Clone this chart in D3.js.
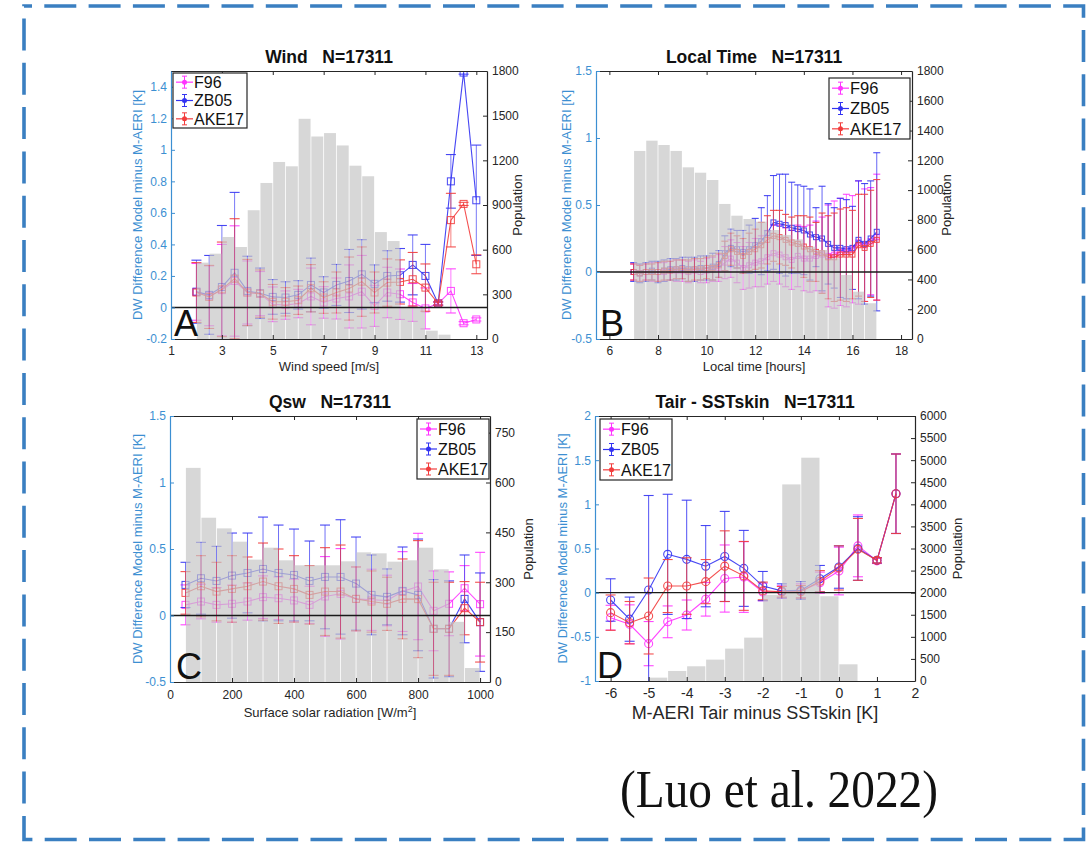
<!DOCTYPE html>
<html>
<head>
<meta charset="utf-8">
<script src="https://cdn.jsdelivr.net/npm/d3@7"></script>
<style>
  body { margin: 0; background: #fff; }
  svg { display: block; }
  text { font-family: "Liberation Sans", Arial, Helvetica, sans-serif; }
</style>
</head>
<body>
<svg id="fig" width="1089" height="842"></svg>
<script>
// ---------------- data ----------------
const seriesNames = ["F96", "ZB05", "AKE17"];

// Panel A: wind speed bins
const windSpeed = [2, 2.5, 3, 3.5, 4, 4.5, 5, 5.5, 6, 6.5, 7, 7.5, 8, 8.5, 9, 9.5, 10, 10.5, 11, 11.5, 12, 12.5, 13];
const windF96   = [0.099, 0.074, 0.11, 0.168, 0.095, 0.088, 0.02, 0.015, 0.025, 0.07, 0.032, 0.057, 0.07, 0.1, 0.01, 0.095, 0.084, 0.032, -0.006, 0.025, 0.105, -0.1, -0.076];
const windZB05  = [0.10, 0.08, 0.13, 0.22, 0.105, 0.09, 0.067, 0.063, 0.08, 0.143, 0.095, 0.143, 0.168, 0.21, 0.15, 0.2, 0.204, 0.27, 0.2, 0.025, 0.8, 1.49, 0.68];
const windAKE17 = [0.095, 0.067, 0.115, 0.183, 0.095, 0.088, 0.036, 0.036, 0.046, 0.122, 0.063, 0.095, 0.12, 0.164, 0.095, 0.158, 0.162, 0.179, 0.126, 0.025, 0.554, 0.657, 0.274];
const windF96Err   = [0.18, 0.19, 0.29, 0.35, 0.2, 0.14, 0.11, 0.09, 0.09, 0.18, 0.1, 0.13, 0.2, 0.23, 0.13, 0.16, 0.16, 0.12, 0.13, 0.01, 0.14, 0.01, 0.01];
const windZB05Err  = [0.2, 0.25, 0.39, 0.51, 0.22, 0.16, 0.11, 0.1, 0.09, 0.17, 0.1, 0.13, 0.2, 0.22, 0.12, 0.16, 0.17, 0.19, 0.2, 0.01, 0.17, 0.01, 0.35];
const windAKE17Err = [0.19, 0.2, 0.3, 0.38, 0.21, 0.15, 0.11, 0.09, 0.09, 0.15, 0.1, 0.13, 0.2, 0.22, 0.13, 0.15, 0.14, 0.17, 0.15, 0.01, 0.17, 0.01, 0.06];
const windBins = [2, 2.5, 3, 3.5, 4, 4.5, 5, 5.5, 6, 6.5, 7, 7.5, 8, 8.5, 9, 9.5, 10, 10.5, 11, 11.5];
const windPop  = [513, 573, 685, 618, 865, 1048, 1189, 1160, 1479, 1360, 1383, 1300, 1164, 1093, 718, 658, 215, 212, 56, 29];
const windXTicks = [1, 3, 5, 7, 9, 11, 13];
const windYTicks = [-0.2, 0, 0.2, 0.4, 0.6, 0.8, 1, 1.2, 1.4];
const windPopTicks = [0, 300, 600, 900, 1200, 1500, 1800];

// Panel B: local time bins
const localHour = [7, 7.25, 7.5, 7.75, 8, 8.25, 8.5, 8.75, 9, 9.25, 9.5, 9.75, 10, 10.25, 10.5, 10.75, 11, 11.25, 11.5, 11.75, 12, 12.25, 12.5, 12.75, 13, 13.25, 13.5, 13.75, 14, 14.25, 14.5, 14.75, 15, 15.25, 15.5, 15.75, 16, 16.25, 16.5, 16.75, 17];
const timeF96   = [0, -0.01, 0, 0, 0, 0, 0.01, 0.01, 0.01, 0, 0.01, 0, 0.01, 0.02, 0.03, 0.07, 0.10, 0.07, 0.03, 0.05, 0.07, 0.08, 0.11, 0.14, 0.13, 0.11, 0.09, 0.12, 0.10, 0.10, 0.12, 0.13, 0.12, 0.13, 0.15, 0.16, 0.17, 0.22, 0.20, 0.23, 0.26];
const timeZB05  = [0, -0.01, 0, 0.01, 0, 0.01, 0.02, 0.02, 0.03, 0.02, 0.02, 0.03, 0.03, 0.04, 0.06, 0.14, 0.18, 0.17, 0.15, 0.17, 0.20, 0.23, 0.29, 0.37, 0.36, 0.35, 0.33, 0.32, 0.31, 0.28, 0.26, 0.25, 0.21, 0.18, 0.18, 0.17, 0.18, 0.24, 0.21, 0.25, 0.30];
const timeAKE17 = [0, -0.01, 0, 0, 0, 0.01, 0.01, 0.02, 0.02, 0.01, 0.02, 0.02, 0.03, 0.03, 0.05, 0.12, 0.17, 0.15, 0.12, 0.15, 0.17, 0.20, 0.24, 0.27, 0.26, 0.24, 0.22, 0.21, 0.19, 0.17, 0.15, 0.14, 0.11, 0.11, 0.13, 0.13, 0.13, 0.20, 0.18, 0.21, 0.24];
const timeF96Err   = [0.06, 0.06, 0.06, 0.07, 0.07, 0.07, 0.07, 0.08, 0.08, 0.08, 0.08, 0.08, 0.09, 0.09, 0.10, 0.12, 0.14, 0.15, 0.16, 0.17, 0.18, 0.19, 0.20, 0.21, 0.22, 0.22, 0.22, 0.23, 0.24, 0.25, 0.26, 0.28, 0.38, 0.40, 0.40, 0.42, 0.40, 0.46, 0.42, 0.40, 0.47];
const timeZB05Err  = [0.07, 0.07, 0.07, 0.07, 0.08, 0.08, 0.08, 0.08, 0.08, 0.09, 0.09, 0.09, 0.09, 0.10, 0.10, 0.13, 0.14, 0.14, 0.16, 0.18, 0.20, 0.25, 0.28, 0.35, 0.37, 0.38, 0.34, 0.33, 0.33, 0.34, 0.22, 0.39, 0.30, 0.30, 0.37, 0.37, 0.31, 0.44, 0.45, 0.43, 0.59];
const timeAKE17Err = [0.06, 0.06, 0.06, 0.06, 0.07, 0.07, 0.07, 0.07, 0.07, 0.08, 0.08, 0.08, 0.08, 0.09, 0.09, 0.11, 0.12, 0.12, 0.13, 0.14, 0.15, 0.17, 0.18, 0.19, 0.20, 0.19, 0.19, 0.21, 0.23, 0.24, 0.22, 0.30, 0.31, 0.33, 0.34, 0.35, 0.33, 0.38, 0.40, 0.40, 0.45];
const timeBins = [7, 7.5, 8, 8.5, 9, 9.5, 10, 10.5, 11, 11.5, 12, 12.5, 13, 13.5, 14, 14.5, 15, 15.5, 16, 16.5];
const timePop  = [1263, 1332, 1303, 1263, 1153, 1117, 1068, 907, 828, 806, 788, 732, 699, 669, 620, 598, 542, 430, 318, 240];
const timeXTicks = [6, 8, 10, 12, 14, 16, 18];
const timeYTicks = [-0.5, 0, 0.5, 1, 1.5];
const timePopTicks = [0, 200, 400, 600, 800, 1000, 1200, 1400, 1600, 1800];

// Panel C: surface solar radiation bins
const solarRad = [50, 100, 150, 200, 250, 300, 350, 400, 450, 500, 550, 600, 650, 700, 750, 800, 850, 900, 950, 1000];
const qswF96   = [0.08, 0.105, 0.08, 0.088, 0.105, 0.138, 0.13, 0.113, 0.08, 0.143, 0.163, 0.125, 0.118, 0.113, 0.18, 0.218, 0.035, 0.088, 0.205, 0.085];
const qswZB05  = [0.23, 0.28, 0.26, 0.30, 0.32, 0.35, 0.32, 0.305, 0.26, 0.29, 0.29, 0.24, 0.155, 0.14, 0.185, 0.155, -0.1, -0.1, 0.125, -0.05];
const qswAKE17 = [0.17, 0.22, 0.18, 0.2, 0.22, 0.255, 0.22, 0.2, 0.155, 0.18, 0.18, 0.125, 0.105, 0.088, 0.125, 0.123, -0.1, -0.1, 0.055, -0.05];
const qswF96Err   = [0.15, 0.13, 0.13, 0.14, 0.14, 0.16, 0.16, 0.16, 0.14, 0.3, 0.34, 0.24, 0.23, 0.19, 0.3, 0.4, 0.3, 0.24, 0.17, 0.39];
const qswZB05Err  = [0.17, 0.27, 0.26, 0.32, 0.3, 0.39, 0.36, 0.345, 0.3, 0.39, 0.43, 0.35, 0.3, 0.21, 0.33, 0.42, 0.37, 0.36, 0.33, 0.37];
const qswAKE17Err = [0.16, 0.23, 0.22, 0.25, 0.22, 0.29, 0.28, 0.25, 0.22, 0.33, 0.35, 0.24, 0.23, 0.2, 0.3, 0.44, 0.35, 0.35, 0.2, 0.3];
const qswBins = [50, 100, 150, 200, 250, 300, 350, 400, 450, 500, 550, 600, 650, 700, 750, 800, 850, 900, 950];
const qswPop  = [644, 494, 462, 422, 368, 404, 366, 351, 351, 351, 363, 390, 387, 362, 366, 404, 339, 181, 42];
const qswXTicks = [0, 200, 400, 600, 800, 1000];
const qswYTicks = [-0.5, 0, 0.5, 1, 1.5];
const qswPopTicks = [0, 150, 300, 450, 600, 750];

// Panel D: air minus skin temperature bins
const airSkin = [-6, -5.5, -5, -4.5, -4, -3.5, -3, -2.5, -2, -1.5, -1, -0.5, 0, 0.5, 1, 1.5];
const dtF96   = [-0.283, -0.358, -0.577, -0.33, -0.253, -0.075, 0.16, 0.177, 0.008, 0.008, 0.02, 0.113, 0.245, 0.53, 0.36, 1.12];
const dtZB05  = [-0.083, -0.3, 0.03, 0.434, 0.377, 0.3, 0.41, 0.275, 0.075, 0.02, 0.026, 0.158, 0.29, 0.5, 0.366, 1.12];
const dtAKE17 = [-0.226, -0.34, -0.264, 0.075, 0.075, 0.125, 0.3, 0.19, 0.02, 0.01, 0.01, 0.13, 0.28, 0.49, 0.366, 1.12];
const dtF96Err   = [0.14, 0.22, 0.25, 0.18, 0.17, 0.19, 0.38, 0.4, 0.1, 0.07, 0.08, 0.12, 0.27, 0.35, 0.03, 0.45];
const dtZB05Err  = [0.24, 0.25, 1.07, 0.68, 0.67, 0.46, 0.51, 0.43, 0.165, 0.08, 0.1, 0.15, 0.24, 0.36, 0.03, 0.45];
const dtAKE17Err = [0.2, 0.24, 0.43, 0.3, 0.32, 0.25, 0.4, 0.39, 0.1, 0.06, 0.07, 0.12, 0.25, 0.35, 0.03, 0.45];
const dtBins = [-5, -4.5, -4, -3.5, -3, -2.5, -2, -1.5, -1, -0.5, 0];
const dtPop  = [76, 227, 333, 484, 733, 982, 1950, 4451, 5056, 1919, 378];
const dtXTicks = [-6, -5, -4, -3, -2, -1, 0, 1, 2];
const dtYTicks = [-1, -0.5, 0, 0.5, 1, 1.5, 2];
const dtPopTicks = [0, 500, 1000, 1500, 2000, 2500, 3000, 3500, 4000, 4500, 5000, 5500, 6000];

// ---------------- styling ----------------
const seriesColor = { F96: "#ff33ff", ZB05: "#3333f2", AKE17: "#f23c3c" };
const leftAxisColor = "#3c8fd2";
const boxColor = "#262626";
// histogram is laid over the curves as a translucent grey veil
const barFill = "#c6c6c6";
const barOpacity = 0.7;

const svg = d3.select("#fig");

// Panel layout and per-panel options
const panels = [
  {
    id: "A", title: "Wind   N=17311", xLabel: "Wind speed [m/s]",
    left: 171, right: 487, top: 71, bottom: 339,
    xDomain: [1, 13.42], yDomain: [-0.2, 1.5], popDomain: [0, 1800],
    xTicks: windXTicks, yTicks: windYTicks, popTicks: windPopTicks,
    x: windSpeed, bins: windBins, pop: windPop, binWidth: 0.5,
    values: { F96: windF96, ZB05: windZB05, AKE17: windAKE17 },
    errors: { F96: windF96Err, ZB05: windZB05Err, AKE17: windAKE17Err },
    marker: "square", markerSize: 7, capWidth: 10, whiskerOpacity: 0.65, capOpacity: 0.9, lineOpacity: 0.9,
    legend: { x: 173, y: 73, w: 74, h: 55, font: 16 },
    ylabX: 137, poplabX: 517, letterX: 174, letterY: 336,
    tickFont: 12, xLabFont: 13, xTickDy: 16, xLabDy: 32
  },
  {
    id: "B", title: "Local Time   N=17311", xLabel: "Local time [hours]",
    left: 596, right: 912, top: 71, bottom: 339,
    xDomain: [5.45, 18.45], yDomain: [-0.5, 1.5], popDomain: [0, 1800],
    xTicks: timeXTicks, yTicks: timeYTicks, popTicks: timePopTicks,
    x: localHour, bins: timeBins, pop: timePop, binWidth: 0.5,
    values: { F96: timeF96, ZB05: timeZB05, AKE17: timeAKE17 },
    errors: { F96: timeF96Err, ZB05: timeZB05Err, AKE17: timeAKE17Err },
    marker: "square", markerSize: 5, capWidth: 7, whiskerOpacity: 0.75, capOpacity: 0.9, lineOpacity: 0.9,
    legend: { x: 829, y: 78, w: 81, h: 61, font: 16.5 },
    ylabX: 566, poplabX: 946, letterX: 600, letterY: 336,
    tickFont: 12, xLabFont: 13, xTickDy: 16, xLabDy: 32
  },
  {
    id: "C", title: "Qsw   N=17311", xLabel: "Surface solar radiation [W/m",
    left: 170, right: 490, top: 416, bottom: 682,
    xDomain: [0, 1032], yDomain: [-0.5, 1.5], popDomain: [0, 800],
    xTicks: qswXTicks, yTicks: qswYTicks, popTicks: qswPopTicks,
    x: solarRad, bins: qswBins, pop: qswPop, binWidth: 50,
    values: { F96: qswF96, ZB05: qswZB05, AKE17: qswAKE17 },
    errors: { F96: qswF96Err, ZB05: qswZB05Err, AKE17: qswAKE17Err },
    marker: "square", markerSize: 7, capWidth: 10, whiskerOpacity: 0.7, capOpacity: 0.9, lineOpacity: 0.9,
    legend: { x: 417, y: 419, w: 72, h: 60, font: 16 },
    ylabX: 137, poplabX: 528, letterX: 176, letterY: 679,
    tickFont: 12, xLabFont: 13, xTickDy: 17, xLabDy: 35, superscript: "2"
  },
  {
    id: "D", title: "Tair - SSTskin   N=17311", xLabel: "M-AERI Tair minus SSTskin [K]",
    left: 595, right: 915, top: 416, bottom: 681,
    xDomain: [-6.41, 2], yDomain: [-1, 2], popDomain: [0, 6000],
    xTicks: dtXTicks, yTicks: dtYTicks, popTicks: dtPopTicks,
    x: airSkin, bins: dtBins, pop: dtPop, binWidth: 0.5,
    values: { F96: dtF96, ZB05: dtZB05, AKE17: dtAKE17 },
    errors: { F96: dtF96Err, ZB05: dtZB05Err, AKE17: dtAKE17Err },
    marker: "circle", markerSize: 8, capWidth: 10, whiskerOpacity: 0.85, capOpacity: 0.9, lineOpacity: 0.9,
    legend: { x: 600, y: 419, w: 72, h: 61, font: 16 },
    ylabX: 562, poplabX: 957, letterX: 597, letterY: 678,
    tickFont: 12, xTickFont: 14, xLabFont: 18, xTickDy: 17, xLabDy: 38
  }
];

function fmt(d) { return String(d); }

function drawPanel(p) {
  const x = d3.scaleLinear().domain(p.xDomain).range([p.left, p.right]);
  const y = d3.scaleLinear().domain(p.yDomain).range([p.bottom, p.top]);
  const yPop = d3.scaleLinear().domain(p.popDomain).range([p.bottom, p.top]);
  const g = svg.append("g").attr("class", "panel-" + p.id);

  const clipId = "clip-" + p.id;
  svg.append("clipPath").attr("id", clipId)
    .append("rect").attr("x", p.left).attr("y", p.top)
    .attr("width", p.right - p.left).attr("height", p.bottom - p.top);
  const plot = g.append("g").attr("clip-path", `url(#${clipId})`);

  // error bars, lines and markers for each scheme
  seriesNames.forEach(name => {
    const col = seriesColor[name];
    const pts = p.x.map((xv, i) => ({ x: xv, v: p.values[name][i], e: p.errors[name][i] }));
    const sg = plot.append("g").attr("class", "series-" + name);

    sg.append("g").selectAll("line")
      .data(pts).join("line")
      .attr("x1", d => x(d.x)).attr("x2", d => x(d.x))
      .attr("y1", d => y(d.v - d.e)).attr("y2", d => y(d.v + d.e))
      .attr("stroke", col).attr("stroke-width", 1)
      .attr("stroke-opacity", p.whiskerOpacity);

    const caps = pts.flatMap(d => [d.v - d.e, d.v + d.e].map(c => ({ x: d.x, c })));
    sg.append("g").selectAll("line")
      .data(caps).join("line")
      .attr("x1", d => x(d.x) - p.capWidth / 2).attr("x2", d => x(d.x) + p.capWidth / 2)
      .attr("y1", d => y(d.c)).attr("y2", d => y(d.c))
      .attr("stroke", col).attr("stroke-width", 1.1)
      .attr("stroke-opacity", p.capOpacity);

    sg.append("path")
      .datum(pts)
      .attr("d", d3.line().x(d => x(d.x)).y(d => y(d.v)))
      .attr("fill", "none").attr("stroke", col)
      .attr("stroke-width", 1.1).attr("stroke-opacity", p.lineOpacity);

    const s = p.markerSize;
    if (p.marker === "square") {
      sg.append("g").selectAll("rect")
        .data(pts).join("rect")
        .attr("x", d => x(d.x) - s / 2).attr("y", d => y(d.v) - s / 2)
        .attr("width", s).attr("height", s)
        .attr("fill", "none").attr("stroke", col)
        .attr("stroke-width", 1).attr("stroke-opacity", p.lineOpacity);
    } else {
      sg.append("g").selectAll("circle")
        .data(pts).join("circle")
        .attr("cx", d => x(d.x)).attr("cy", d => y(d.v)).attr("r", s / 2)
        .attr("fill", "none").attr("stroke", col)
        .attr("stroke-width", 1.1).attr("stroke-opacity", p.lineOpacity);
    }
  });

  // population histogram (right axis), translucent over the curves
  plot.append("g").selectAll("rect")
    .data(p.bins.map((b, i) => ({ b, n: p.pop[i] })))
    .join("rect")
    .attr("x", d => x(d.b) + 0.4)
    .attr("width", d => x(d.b + p.binWidth) - x(d.b) - 0.8)
    .attr("y", d => yPop(d.n))
    .attr("height", d => yPop(0) - yPop(d.n))
    .attr("fill", barFill)
    .attr("fill-opacity", barOpacity);

  // zero reference line
  plot.append("line")
    .attr("x1", p.left).attr("x2", p.right)
    .attr("y1", y(0)).attr("y2", y(0))
    .attr("stroke", "#1a1a1a").attr("stroke-width", 1.4);

  // axes: ticks pointing inwards, box on all four sides
  const axB = g.append("g").attr("transform", `translate(0,${p.bottom})`)
    .call(d3.axisBottom(x).tickValues(p.xTicks).tickSize(-4).tickSizeOuter(0).tickPadding(0).tickFormat(fmt));
  axB.selectAll("text").attr("dy", null).attr("y", p.xTickDy)
    .style("font-size", (p.xTickFont || p.tickFont) + "px").attr("fill", boxColor);
  const axT = g.append("g").attr("transform", `translate(0,${p.top})`)
    .call(d3.axisTop(x).tickValues(p.xTicks).tickSize(-4).tickSizeOuter(0).tickFormat(""));
  const axL = g.append("g").attr("transform", `translate(${p.left},0)`)
    .call(d3.axisLeft(y).tickValues(p.yTicks).tickSize(-4).tickSizeOuter(0).tickPadding(4).tickFormat(fmt));
  axL.selectAll("text").style("font-size", p.tickFont + "px").attr("fill", leftAxisColor);
  axL.selectAll("line, path").attr("stroke", leftAxisColor);
  const axR = g.append("g").attr("transform", `translate(${p.right},0)`)
    .call(d3.axisRight(yPop).tickValues(p.popTicks).tickSize(-4).tickSizeOuter(0).tickPadding(5).tickFormat(fmt));
  axR.selectAll("text").style("font-size", p.tickFont + "px").attr("fill", boxColor);
  [axB, axT, axR].forEach(a => a.selectAll("line, path").attr("stroke", boxColor));
  [axB, axT, axL, axR].forEach(a => a.select(".domain").attr("stroke-width", 1.2));

  // titles and labels
  g.append("text")
    .attr("x", (p.left + p.right) / 2).attr("y", p.top - 8)
    .attr("text-anchor", "middle")
    .style("font-size", "17.5px").style("font-weight", "bold").style("white-space", "pre")
    .attr("fill", "#111").text(p.title);

  const xl = g.append("text")
    .attr("x", (p.left + p.right) / 2).attr("y", p.bottom + p.xLabDy)
    .attr("text-anchor", "middle")
    .style("font-size", p.xLabFont + "px").attr("fill", boxColor)
    .text(p.xLabel);
  if (p.superscript) {
    xl.append("tspan").attr("dy", -5).style("font-size", "9px").text(p.superscript);
    xl.append("tspan").attr("dy", 5).text("]");
  }

  g.append("text")
    .attr("transform", `translate(${p.ylabX},${(p.top + p.bottom) / 2}) rotate(-90)`)
    .attr("text-anchor", "middle").attr("dy", "0.35em")
    .style("font-size", "13px").attr("fill", leftAxisColor)
    .text("DW Difference Model minus M-AERI [K]");

  g.append("text")
    .attr("transform", `translate(${p.poplabX},${(p.top + p.bottom) / 2}) rotate(-90)`)
    .attr("text-anchor", "middle").attr("dy", "0.35em")
    .style("font-size", "13px").attr("fill", boxColor)
    .text("Population");

  g.append("text")
    .attr("x", p.letterX).attr("y", p.letterY)
    .style("font-size", "36px").attr("fill", "#111")
    .text(p.id);

  // legend
  const L = p.legend;
  const lg = g.append("g");
  lg.append("rect")
    .attr("x", L.x).attr("y", L.y).attr("width", L.w).attr("height", L.h)
    .attr("fill", "#ffffff").attr("stroke", boxColor).attr("stroke-width", 1.2);
  const rowH = L.h / 3;
  seriesNames.forEach((name, i) => {
    const cy = L.y + rowH * (i + 0.5);
    const col = seriesColor[name];
    const x0 = L.x + 3, x1 = L.x + 20, xm = (x0 + x1) / 2;
    lg.append("line").attr("x1", x0).attr("x2", x1).attr("y1", cy).attr("y2", cy)
      .attr("stroke", col).attr("stroke-width", 1.2);
    lg.append("line").attr("x1", xm).attr("x2", xm).attr("y1", cy - 6).attr("y2", cy + 6)
      .attr("stroke", col).attr("stroke-width", 1);
    [cy - 6, cy + 6].forEach(cc => lg.append("line")
      .attr("x1", xm - 2.5).attr("x2", xm + 2.5).attr("y1", cc).attr("y2", cc)
      .attr("stroke", col).attr("stroke-width", 1));
    lg.append("circle").attr("cx", xm).attr("cy", cy).attr("r", 2.5).attr("fill", col);
    lg.append("text").attr("x", x1 + 1).attr("y", cy).attr("dy", "0.36em")
      .style("font-size", L.font + "px").attr("fill", "#111").text(name);
  });
}

panels.forEach(drawPanel);

// dashed frame and citation
svg.append("path")
  .attr("d", "M24,6 H1083.5 V839.5 H24 Z")
  .attr("fill", "none")
  .attr("stroke", "#3a7fc1")
  .attr("stroke-width", 3.6)
  .attr("stroke-dasharray", "32 12.3")
  .attr("stroke-dashoffset", 24);

svg.append("text")
  .attr("x", 620).attr("y", 807)
  .style("font-family", "'Liberation Serif', 'Times New Roman', serif")
  .style("font-size", "52px")
  .attr("textLength", 318).attr("lengthAdjust", "spacingAndGlyphs")
  .attr("fill", "#111")
  .text("(Luo et al. 2022)");
</script>
</body>
</html>
